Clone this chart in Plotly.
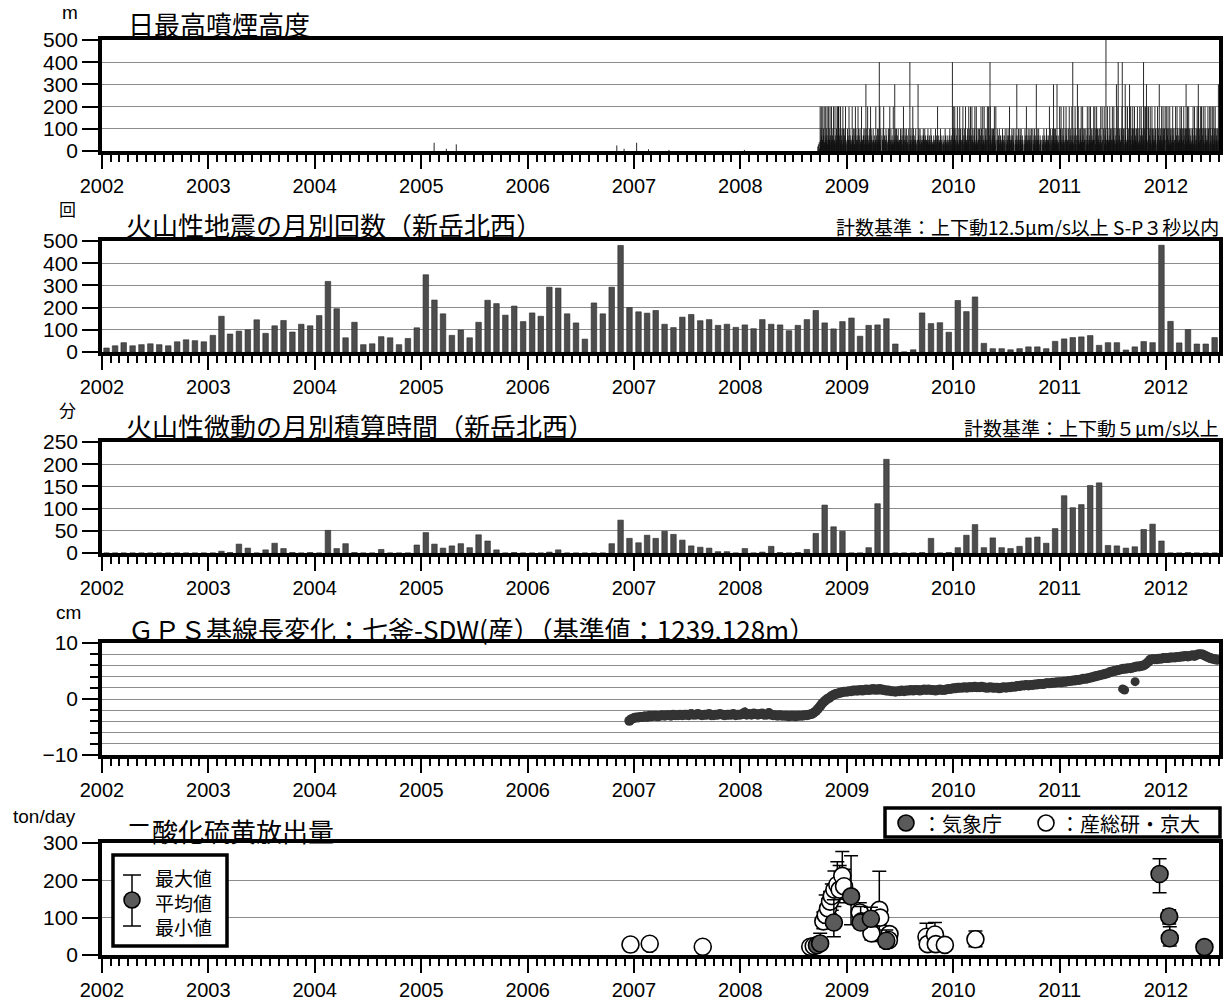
import plotly.graph_objects as go
import pandas as pd

W, H = 1224, 1000

# ------------------------------------------------------------------ data
month_start = "2002-01-01"
quake_counts = [
    18, 28, 42, 28, 33, 37, 33, 28, 46, 55, 51, 46,          # 2002
    75, 161, 81, 94, 100, 145, 84, 118, 142, 90, 125, 118,   # 2003
    164, 318, 195, 64, 134, 33, 37, 69, 64, 33, 61, 109,     # 2004
    348, 234, 172, 75, 99, 64, 134, 233, 218, 166, 207, 137,  # 2005
    176, 161, 292, 288, 172, 131, 58, 221, 172, 292, 480, 200,  # 2006
    181, 175, 187, 125, 110, 157, 169, 141, 146, 120, 125, 111,  # 2007
    122, 105, 146, 125, 122, 96, 120, 146, 187, 131, 104, 137,   # 2008
    153, 71, 120, 122, 150, 36, 0, 10, 176, 128, 132, 89,        # 2009
    232, 182, 248, 39, 15, 15, 10, 15, 23, 23, 15, 48,           # 2010
    59, 65, 68, 74, 30, 42, 42, 9, 23, 47, 42, 481,              # 2011
    138, 41, 101, 36, 36, 65,                                    # 2012
]
tremor_minutes = [
    0, 0, 0, 0, 0, 0, 0, 0, 0, 0, 0, 0,                # 2002
    0, 4, 1, 20, 11, 0, 7, 22, 10, 1, 0, 1,            # 2003
    0, 51, 10, 21, 1, 0, 0, 8, 0, 0, 0, 18,            # 2004
    46, 20, 11, 16, 21, 12, 41, 27, 7, 0, 1, 0,        # 2005
    0, 0, 2, 7, 0, 0, 0, 0, 0, 21, 74, 33,             # 2006
    23, 40, 33, 49, 42, 29, 16, 13, 11, 3, 3, 0,       # 2007
    10, 0, 2, 15, 1, 0, 1, 8, 44, 108, 59, 49,         # 2008
    0, 0, 12, 111, 211, 0, 0, 0, 1, 33, 0, 1,          # 2009
    12, 40, 64, 12, 34, 12, 10, 15, 34, 36, 22, 55,    # 2010
    129, 102, 109, 152, 158, 17, 16, 11, 14, 53, 65, 27,  # 2011
    0, 0, 1, 0, 0, 0,                                  # 2012
]

# daily maximum plume height: one string per month from plume_start,
# one character per day
plume_start = "2008-09-01"
plume_levels = {"0": 0, "1": 10, "2": 20, "3": 30, "4": 40, "5": 50, "7": 70,
                "A": 100, "B": 200, "C": 300, "D": 400, "E": 500}
plume_codes = [
    "000000000000000000000020300410",    # 2008-09
    "B53AB7405B3A70B4035B7A45B3075B5",   # 2008-10
    "A53B7045B3075A4B0535B7043A5B07",    # 2008-11
    "BBBB507A3B4057A30B5A4307A5B340",    # 2008-12
    "53A0754B50A7354305B740A5303A7B",    # 2009-01
    "A350745B0A3705A4305B7453507A",      # 2009-02
    "530A74C53A07B45307A430B5A37504",    # 2009-03
    "A53074305B37054A305A7D4B53A0",      # 2009-04
    "7053A4B5073054A7053040A57A3B45",    # 2009-05
    "A5307435B3054C7A045A30745A4035",    # 2009-06
    "503A7450A3075B4305A7045A30743",     # 2009-07
    "A530D745A30574B0A5370545A43005",    # 2009-08
    "5C37A405A3075443057A7045A30754",    # 2009-09
    "50347A530475430A57304305374350",    # 2009-10
    "A530745B530745403A570453007340",    # 2009-11
    "503A745304705430570A40537053DA",    # 2009-12
    "B53A7B405A3074B5403A05B73A5405",    # 2010-01
    "A5B3074A053B745403A705B3A07",       # 2010-02
    "B5307B45A3047A5B4305B7A4305A5",     # 2010-03
    "A5307B4A503B7454B035A7540A5B",      # 2010-04
    "5BA307DB54A0357A43A05B7430B5",      # 2010-05
    "A530745A3007543057A74053704A",      # 2010-06
    "503A745307A5B4305745A3075A43",      # 2010-07
    "A53074C53075A4305A745A305743",      # 2010-08
    "503A7453B07543A05745A3075A40",      # 2010-09
    "A53074A53075C40A5374A5300745",      # 2010-10
    "5037045A30754305A745307543B",       # 2010-11
    "A530745A30C75A430A5374C53074",      # 2010-12
    "B53A7B405A3074B5403A05B73A5405",    # 2011-01
    "A5B3074A053B74D403A705B3A07",       # 2011-02
    "53C07B45A3047A5B4305B7A4305A5",     # 2011-03
    "A5307B4A503B7454B035A7540A5B",      # 2011-04
    "5BA307AB54A0357A43A05B7430B5",      # 2011-05
    "A5B307A4E5035B7A54305B7A40A5",      # 2011-06
    "B53A7B405A3074C54A3BD05A73A540",    # 2011-07
    "A5BD074A0530AC7B54035B7A05A3CB",    # 2011-08
    "5BA3075AB54A03B5A7543A05B7A43",     # 2011-09
    "A5B3074BA5037A5D4B0A35B7AC5B4",     # 2011-10
    "5BA307AB54A03B5A754A305B7A430",     # 2011-11
    "A5B307A4C5037A54B0A35B7A40A5B",     # 2011-12
    "5BA307AB54A03B5A7543A05B7A4305",    # 2012-01
    "A5B3074BA50347A54B0A35B7A40A5",     # 2012-02
    "5BA307A5AC4A03B5A7B43A0537A4305",   # 2012-03
    "A5B3074BA5037A54B0A3CB7A40A5B",     # 2012-04
    "5BA307AB54A03B5A7543A05B7A430B",    # 2012-05
    "A5B3074BA503B7A54B0A357A40A5C",     # 2012-06
]
plume_early_dates = ["2005-02-14", "2005-03-28", "2005-05-01", "2006-11-03",
                     "2006-11-28", "2007-01-10", "2007-02-20", "2007-05-01", "2008-01-15"]
plume_early_heights = [37, 10, 30, 25, 10, 37, 8, 5, 5]

# GPS baseline change (cm), ~weekly readings per month from gps_start_month
gps_start_month = "2006-12-01"
gps_week_days = [1, 8, 16, 23]
gps_cm = [
    [-3.9, -3.6],
    [-3.4, -3.3, -3.3, -3.2], [-3.2, -3.1, -3.2, -3.0], [-3.1, -3.0, -3.0, -3.1],
    [-3.0, -2.9, -3.0, -2.9], [-2.9, -3.0, -2.8, -2.9], [-2.9, -2.8, -2.9, -2.8],
    [-2.8, -2.9, -2.7, -2.8], [-2.8, -2.7, -2.8, -2.9], [-2.8, -2.8, -2.7, -2.9],
    [-2.9, -2.8, -2.8, -2.7], [-2.8, -2.9, -2.8, -2.8], [-2.8, -2.7, -2.9, -2.8],
    [-2.8, -2.7, -2.4, -2.8], [-2.7, -2.8, -2.6, -2.7], [-2.8, -2.7, -2.6, -2.8],
    [-2.8, -2.5, -2.8, -2.9], [-2.9, -3.0, -2.9, -3.0], [-3.0, -3.0, -3.1, -3.0],
    [-3.0, -3.1, -3.0, -3.0], [-3.0, -2.9, -2.9, -2.8], [-2.7, -2.5, -2.2, -1.8],
    [-1.3, -0.8, -0.4, -0.1], [0.2, 0.5, 0.7, 0.9], [1.0, 1.1, 1.2, 1.3],
    [1.3, 1.4, 1.4, 1.5], [1.5, 1.5, 1.6, 1.5], [1.6, 1.7, 1.6, 1.7],
    [1.8, 1.7, 1.7, 1.8], [1.7, 1.6, 1.5, 1.5], [1.4, 1.4, 1.3, 1.4],
    [1.4, 1.5, 1.4, 1.5], [1.5, 1.6, 1.5, 1.6], [1.6, 1.5, 1.6, 1.7],
    [1.6, 1.7, 1.6, 1.6], [1.5, 1.6, 1.7, 1.6], [1.6, 1.7, 1.8, 1.8],
    [1.9, 1.9, 2.0, 2.0], [2.0, 2.1, 2.0, 2.1], [2.1, 2.1, 2.2, 2.1],
    [2.1, 2.2, 2.1, 2.0], [2.0, 2.1, 2.0, 2.0], [2.0, 1.9, 2.0, 2.1],
    [2.0, 2.1, 2.1, 2.2], [2.2, 2.3, 2.3, 2.4], [2.4, 2.5, 2.4, 2.5],
    [2.5, 2.6, 2.6, 2.7], [2.7, 2.7, 2.8, 2.8], [2.8, 2.9, 2.9, 3.0],
    [3.0, 3.0, 3.1, 3.1], [3.2, 3.2, 3.3, 3.3], [3.4, 3.4, 3.5, 3.6],
    [3.6, 3.7, 3.8, 3.9], [4.0, 4.1, 4.2, 4.3], [4.4, 4.5, 4.6, 4.8],
    [4.9, 5.0, 5.1, 5.2], [5.3, 5.4, 5.4, 5.5], [5.5, 5.6, 5.7, 5.8],
    [5.8, 5.9, 6.0, 6.2], [6.6, 7.0, 7.1, 7.1], [7.1, 7.2, 7.2, 7.3],
    [7.3, 7.3, 7.4, 7.4], [7.4, 7.5, 7.5, 7.6], [7.6, 7.7, 7.6, 7.7],
    [7.8, 7.7, 7.9, 8.0], [8.0, 7.9, 7.7, 7.5], [7.3, 7.2, 7.1, 7.0],
]
gps_outlier_dates = ["2011-08-05", "2011-08-12", "2011-09-17"]
gps_outlier_cm = [1.8, 1.6, 3.1]

# SO2 emission (ton/day)
jma_dates = ["2008-09-20", "2008-10-01", "2008-11-17", "2009-01-15", "2009-02-17",
             "2009-03-24", "2009-05-16", "2011-12-10", "2012-01-12", "2012-01-14", "2012-05-12"]
jma_mean = [26, 31, 87, 157, 87, 97, 38, 217, 103, 45, 21]
jma_min = [18, 18, 49, 81, 72, 76, 22, 167, 83, 24, 13]
jma_max = [34, 58, 148, 266, 130, 128, 67, 258, 121, 76, 30]

aist_dates = ["2006-12-20", "2007-02-24", "2007-08-25", "2008-08-28", "2008-09-09",
              "2008-10-12", "2008-10-20", "2008-10-28", "2008-11-04", "2008-11-10",
              "2008-11-19", "2008-11-29", "2008-12-07", "2008-12-16", "2008-12-22",
              "2009-02-14", "2009-02-20", "2009-03-26", "2009-04-22", "2009-04-25",
              "2009-05-27", "2009-05-25", "2009-10-01", "2009-10-05", "2009-10-30",
              "2009-11-02", "2009-12-03", "2010-03-18"]
aist_mean = [28, 30, 22, 22, 24, 90, 107, 125, 143, 158, 175, 188, 175, 212, 184,
             114, 90, 58, 121, 100, 56, 40, 49, 29, 55, 29, 27, 42]
aist_min = [18, 30, 15, 22, 24, 70, 80, 95, 110, 120, 130, 150, 140, 170, 150,
            90, 70, 40, 36, 80, 45, 30, 35, 29, 40, 29, 27, 22]
aist_max = [38, 30, 30, 22, 24, 115, 161, 150, 170, 190, 225, 250, 240, 277, 230,
            140, 110, 75, 224, 125, 70, 50, 85, 29, 87, 29, 27, 64]

# ------------------------------------------------------------------ helpers
NUMFONT = "Liberation Sans Narrow, Liberation Sans, Arial, sans-serif"
CJK = "Noto Sans CJK JP, Noto Sans, sans-serif"


def pxx(x):
    return x / W


def pxy(y):
    return 1 - y / H


X0, X1 = 102, 1219
panels_px = [(40, 151), (241, 352), (442, 553), (643, 755), (843, 955)]
X_RANGE = ["2002-01-01", "2012-07-01"]
BAR_COLOR = "#4d4d4d"

months = pd.date_range(month_start, periods=len(quake_counts), freq="MS")

fig = go.Figure()

# panel 1 : plume height (vertical sticks)
sx, sy = [], []
for d, h in zip(plume_early_dates, plume_early_heights):
    sx += [d, d, None]
    sy += [0, h, None]
for i, mcodes in enumerate(plume_codes):
    m0 = pd.Timestamp(plume_start) + pd.DateOffset(months=i)
    for k, c in enumerate(mcodes):
        h = plume_levels[c]
        if h > 0:
            ds = (m0 + pd.Timedelta(days=k)).strftime("%Y-%m-%d")
            sx += [ds, ds, None]
            sy += [0, h, None]
fig.add_trace(go.Scatter(x=sx, y=sy, mode="lines", line=dict(color="#111111", width=0.9),
                         xaxis="x", yaxis="y", hoverinfo="skip"))

# panel 2 : earthquakes
bar_w = 19 * 24 * 3600 * 1000
fig.add_trace(go.Bar(x=months, y=quake_counts, xperiod="M1", xperiodalignment="middle",
                     width=bar_w, marker=dict(color=BAR_COLOR, line=dict(color="#2a2a2a", width=0.6)),
                     xaxis="x2", yaxis="y2"))
# panel 3 : tremor
fig.add_trace(go.Bar(x=months, y=tremor_minutes, xperiod="M1", xperiodalignment="middle",
                     width=bar_w, marker=dict(color=BAR_COLOR, line=dict(color="#2a2a2a", width=0.6)),
                     xaxis="x3", yaxis="y3"))

# panel 4 : GPS
gx, gy = [], []
for i, vals in enumerate(gps_cm):
    m = pd.Timestamp(gps_start_month) + pd.DateOffset(months=i)
    days = gps_week_days[-len(vals):]
    for d, v in zip(days, vals):
        gx.append((m + pd.Timedelta(days=d - 1)).strftime("%Y-%m-%d"))
        gy.append(v)
fig.add_trace(go.Scatter(x=gx, y=gy, mode="lines+markers",
                         line=dict(color="#333333", width=8),
                         marker=dict(color="#333333", size=10),
                         xaxis="x4", yaxis="y4"))
fig.add_trace(go.Scatter(x=gps_outlier_dates, y=gps_outlier_cm, mode="markers",
                         marker=dict(color="#333333", size=9), xaxis="x4", yaxis="y4"))


# panel 5 : SO2
def err(mean, lo, hi):
    return dict(type="data", symmetric=False,
                array=[h - m for m, h in zip(mean, hi)],
                arrayminus=[m - l for m, l in zip(mean, lo)],
                color="black", thickness=1.5, width=7)


fig.add_trace(go.Scatter(x=aist_dates, y=aist_mean, mode="markers",
                         error_y=err(aist_mean, aist_min, aist_max),
                         marker=dict(color="white", size=17, line=dict(color="black", width=1.6)),
                         xaxis="x5", yaxis="y5"))
fig.add_trace(go.Scatter(x=jma_dates, y=jma_mean, mode="markers",
                         error_y=err(jma_mean, jma_min, jma_max),
                         marker=dict(color="#5a5a5a", size=17, line=dict(color="black", width=1.6)),
                         xaxis="x5", yaxis="y5"))

# ------------------------------------------------------------------ axes
xtickfont = dict(family=NUMFONT, size=20, color="black")
ytickfont = dict(family=NUMFONT, size=21, color="black")
layout = dict(width=W, height=H, margin=dict(l=0, r=0, t=0, b=0, autoexpand=False),
              paper_bgcolor="white", plot_bgcolor="white", showlegend=False,
              font=dict(family=CJK, color="black"))

yspec = [
    dict(range=[0, 500], dtick=100),
    dict(range=[0, 500], dtick=100),
    dict(range=[0, 250], dtick=50),
    dict(range=[-10, 10], dtick=10,
         minor=dict(dtick=2, ticks="outside", ticklen=8, tickwidth=1.5, tickcolor="black",
                    showgrid=True, gridcolor="#8c8c8c", gridwidth=1)),
    dict(range=[0, 300], dtick=100),
]

for i, (top, bot) in enumerate(panels_px):
    n = "" if i == 0 else str(i + 1)
    layout["xaxis" + n] = dict(
        domain=[pxx(X0), pxx(X1)], anchor="y" + n, type="date", range=X_RANGE,
        tickmode="linear", tick0="2002-01-01", dtick="M12", tickformat="%Y",
        ticks="outside", ticklen=14, tickwidth=2, tickcolor="black",
        showline=True, linewidth=3.5, linecolor="black", mirror=True,
        showgrid=False, zeroline=False, tickfont=xtickfont, automargin=False,
        minor=dict(dtick="M1", ticks="outside", ticklen=7, tickwidth=1.5,
                   tickcolor="black", showgrid=False),
    )
    ya = dict(domain=[pxy(bot), pxy(top)], anchor="x" + n, tickmode="linear", tick0=0,
              ticks="outside", ticklen=16, tickwidth=2, tickcolor="black",
              showline=True, linewidth=3.5, linecolor="black", mirror=True,
              showgrid=True, gridcolor="#8c8c8c", gridwidth=1, zeroline=False,
              tickfont=ytickfont, automargin=False)
    ya.update(yspec[i])
    layout["yaxis" + n] = ya

fig.update_layout(**layout)


# ------------------------------------------------------------------ texts
def ann(text, x, y, size, family=CJK, xanchor="left"):
    fig.add_annotation(text=text, xref="paper", yref="paper", x=pxx(x), y=pxy(y),
                       xanchor=xanchor, yanchor="middle", showarrow=False,
                       font=dict(family=family, size=size, color="black"))


ann("日最高噴煙高度", 126, 23, 26)
ann("火山性地震の月別回数（新岳北西）", 124, 225, 26)
ann("火山性微動の月別積算時間（新岳北西）", 124, 425, 26)
ann("ＧＰＳ基線長変化：七釜-SDW(産）（基準値：1239.128m）", 126, 628, 26)
ann("二酸化硫黄放出量", 124, 830, 26)

ann("計数基準：上下動12.5μm/s以上 S-P３秒以内", 1221, 227, 19, xanchor="right")
ann("計数基準：上下動５μm/s以上", 1221, 427, 19, xanchor="right")

ann("m", 70, 12, 19, family=NUMFONT, xanchor="center")
ann("回", 67, 209, 17, xanchor="center")
ann("分", 67, 410, 17, xanchor="center")
ann("cm", 68, 612, 19, family=NUMFONT, xanchor="center")
ann("ton/day", 44, 816, 19, family=NUMFONT, xanchor="center")

# SO2 inner legend (max / mean / min)
shapes = []
shapes.append(dict(type="rect", xref="paper", yref="paper", x0=pxx(113), x1=pxx(227),
                   y0=pxy(946), y1=pxy(855), line=dict(color="black", width=3.5),
                   fillcolor="white", layer="above"))
shapes.append(dict(type="line", xref="paper", yref="paper", x0=pxx(132), x1=pxx(132),
                   y0=pxy(875), y1=pxy(926), line=dict(color="black", width=1.5), layer="above"))
for yy in (875, 926):
    shapes.append(dict(type="line", xref="paper", yref="paper", x0=pxx(123), x1=pxx(141),
                       y0=pxy(yy), y1=pxy(yy), line=dict(color="black", width=1.5), layer="above"))
shapes.append(dict(type="circle", xref="paper", yref="paper", x0=pxx(124), x1=pxx(140),
                   y0=pxy(908), y1=pxy(892), fillcolor="#5a5a5a",
                   line=dict(color="black", width=1.6), layer="above"))
# top legend box
shapes.append(dict(type="rect", xref="paper", yref="paper", x0=pxx(885), x1=pxx(1220),
                   y0=pxy(837), y1=pxy(808), line=dict(color="black", width=3.5),
                   fillcolor="white", layer="above"))
shapes.append(dict(type="circle", xref="paper", yref="paper", x0=pxx(898), x1=pxx(914),
                   y0=pxy(831), y1=pxy(815), fillcolor="#5a5a5a",
                   line=dict(color="black", width=1.6), layer="above"))
shapes.append(dict(type="circle", xref="paper", yref="paper", x0=pxx(1038), x1=pxx(1054),
                   y0=pxy(831), y1=pxy(815), fillcolor="white",
                   line=dict(color="black", width=1.6), layer="above"))
fig.update_layout(shapes=shapes)

ann("最大値<br>平均値<br>最小値", 153, 902, 19)
ann("：気象庁", 920, 823, 20)
ann("：産総研・京大", 1058, 823, 20)

fig.write_html("out.html", config={"displayModeBar": False},
               post_script="document.body.style.margin='0';")
